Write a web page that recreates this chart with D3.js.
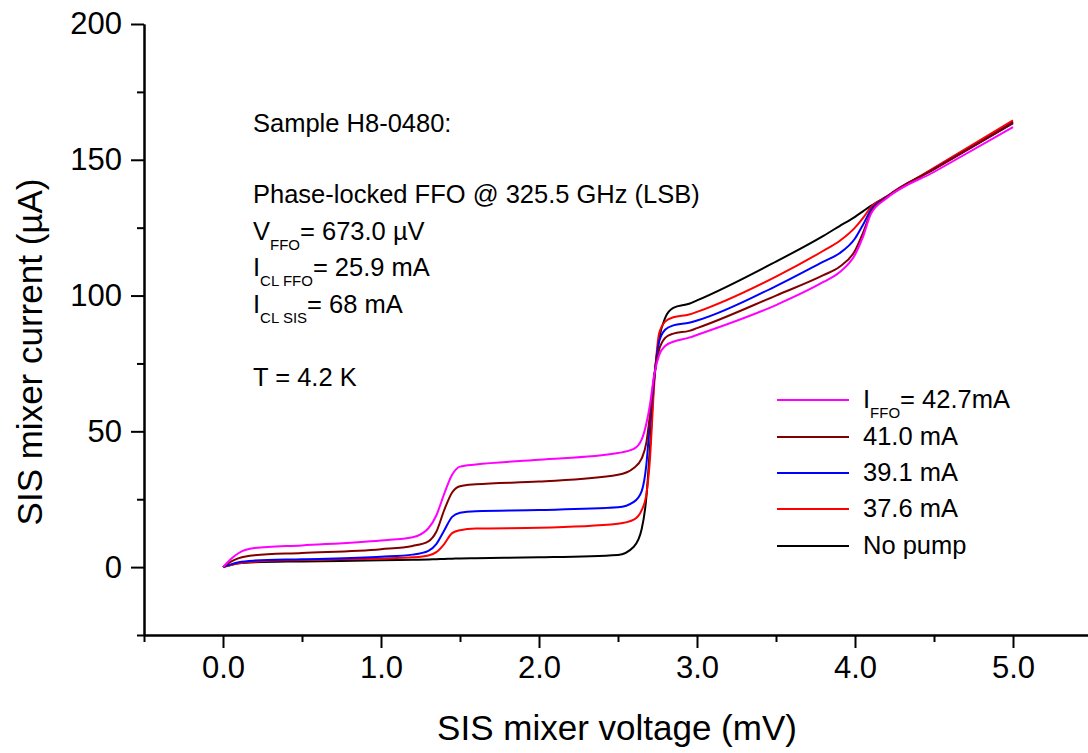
<!DOCTYPE html>
<html>
<head>
<meta charset="utf-8">
<script src="https://cdn.jsdelivr.net/npm/d3@7"></script>
<style>
  body { margin: 0; background: #fff; }
  svg text { font-family: "Liberation Sans", Arial, sans-serif; fill: #000; }
</style>
</head>
<body>
<div class="chart"></div>
<script>
// bias voltage grid (mV) shared by all curves
const voltage = [0, 0.05, 0.1, 0.2, 0.5, 1.0, 1.2, 1.3, 1.35, 1.4, 1.45, 1.5, 1.6, 2.0, 2.5, 2.6, 2.65, 2.68, 2.7, 2.73, 2.76, 2.8, 2.85, 2.95, 3.0, 3.5, 3.8, 3.9, 4.0, 4.05, 4.1, 4.2, 4.5, 5.0];

// SIS current (uA) for each FFO bias
const iffo427 = [0, 3.0, 5.2, 7.0, 8.0, 9.8, 11, 14.3, 19, 27, 34, 37, 37.8, 39.5, 42, 43.5, 47, 53, 59, 71, 78, 81.5, 83, 84.5, 85.5, 96.5, 105, 108.5, 115, 121.5, 130, 135.8, 145.5, 162];
const iffo410 = [0, 2.0, 3.3, 4.4, 5.2, 6.6, 7.8, 9.5, 13, 21, 27.5, 29.8, 30.5, 31.5, 34, 36.5, 40, 46, 55, 71, 80, 84.5, 86, 87, 88, 100, 107.5, 110.5, 116.5, 123, 130.5, 136.2, 146.5, 163.5];
const iffo391 = [0, 1.0, 1.8, 2.4, 2.9, 3.8, 4.6, 6.0, 8.5, 13.5, 18.5, 20.0, 20.6, 21, 22, 24, 28, 38, 52, 70, 83, 87.5, 89, 90, 90.8, 103.5, 112.5, 115.5, 121, 126, 131.5, 136.3, 146.6, 163.5];
const iffo376 = [0, 0.8, 1.4, 2.0, 2.6, 3.2, 3.6, 4.3, 5.5, 8.5, 12.5, 13.6, 14.2, 14.5, 16, 17.5, 21, 27, 38, 68, 86, 90.5, 92, 93, 94, 107, 116.5, 120, 125, 128.5, 132.5, 136.4, 147, 164.5];
const noPump  = [0, 0.8, 1.4, 1.8, 2.1, 2.5, 2.7, 2.8, 2.9, 3.0, 3.1, 3.2, 3.3, 3.6, 4.5, 7.5, 14, 26, 42, 70, 84, 92, 95.5, 97, 98.2, 112.5, 122, 125.5, 129, 131, 133, 136.4, 146.8, 164];

const seriesNames = ["42.7mA", "41.0 mA", "39.1 mA", "37.6 mA", "No pump"];
const seriesColors = ["#ff00ff", "#800000", "#0000ff", "#ff0000", "#000000"];
const seriesValues = [iffo427, iffo410, iffo391, iffo376, noPump];

const xMajor = [0, 1, 2, 3, 4, 5];
const xMinor = [-0.5, 0.5, 1.5, 2.5, 3.5, 4.5, 5.5];
const yMajor = [0, 50, 100, 150, 200];
const yMinor = [-25, 25, 75, 125, 175];

const width = 1088, height = 753;

const svg = d3.select(".chart").append("svg")
    .attr("width", width)
    .attr("height", height)

const xScale = d3.scaleLinear()
    .domain([-0.5, 5.5])
    .range([144, 1092])

const yScale = d3.scaleLinear()
    .domain([-25, 200])
    .range([635, 24])

// minor ticks first, then the labelled axes
svg.append("g")
    .attr("class", "axis")
    .attr("transform", "translate(0,635)")
    .call(d3.axisBottom(xScale).tickValues(xMinor).tickSize(7).tickSizeOuter(0).tickFormat(""))

svg.append("g")
    .attr("class", "axis")
    .attr("transform", "translate(144,0)")
    .call(d3.axisLeft(yScale).tickValues(yMinor).tickSize(7).tickSizeOuter(0).tickFormat(""))

svg.append("g")
    .attr("class", "axis x-axis")
    .attr("transform", "translate(0,635)")
    .call(d3.axisBottom(xScale).tickValues(xMajor).tickSize(13).tickSizeOuter(0).tickPadding(8).tickFormat(d3.format(".1f")))

svg.append("g")
    .attr("class", "axis y-axis")
    .attr("transform", "translate(144,0)")
    .call(d3.axisLeft(yScale).tickValues(yMajor).tickSize(13).tickSizeOuter(0).tickPadding(9))

svg.selectAll(".axis path, .axis line")
    .attr("stroke", "#000")
    .attr("stroke-width", 2)

svg.selectAll(".axis text")
    .attr("font-size", 31)
    .attr("font-family", "Liberation Sans, Arial, sans-serif")

// axis titles
svg.append("text")
    .attr("x", 617)
    .attr("y", 740)
    .attr("text-anchor", "middle")
    .attr("font-size", 35)
    .text("SIS mixer voltage (mV)")

svg.append("text")
    .attr("transform", "translate(42,352) rotate(-90)")
    .attr("text-anchor", "middle")
    .attr("font-size", 35)
    .text("SIS mixer current (\u00b5A)")

// IV curves
const line = d3.line()
    .x((d, i) => xScale(voltage[i]))
    .y(d => yScale(d))
    .curve(d3.curveMonotoneX)

svg.selectAll(".curve")
    .data(seriesValues.slice().reverse())
    .enter()
    .append("path")
    .attr("class", "curve")
    .attr("d", line)
    .attr("fill", "none")
    .attr("stroke", (d, i) => seriesColors.slice().reverse()[i])
    .attr("stroke-width", 2)

// annotation block
const note = svg.append("g").attr("font-size", 25.5)

note.append("text").attr("x", 253).attr("y", 132).text("Sample H8-0480:")
note.append("text").attr("x", 253).attr("y", 203).text("Phase-locked FFO @ 325.5 GHz (LSB)")

function subText(x, y, main, sub, rest) {
    const t = note.append("text").attr("x", x).attr("y", y)
    t.append("tspan").text(main)
    t.append("tspan").attr("font-size", 15).attr("dy", 10).text(sub)
    t.append("tspan").attr("dy", -10).text(rest)
}

subText(253, 240, "V", "FFO", "= 673.0 \u00b5V")
subText(253, 276, "I", "CL FFO", "= 25.9 mA")
subText(253, 313, "I", "CL SIS", "= 68 mA")
note.append("text").attr("x", 253).attr("y", 386).text("T = 4.2 K")

// legend
const legendY = [400, 437, 473, 509, 546];
const legend = svg.append("g").attr("font-size", 25.5)

seriesNames.forEach((name, i) => {
    legend.append("line")
        .attr("x1", 777).attr("x2", 849)
        .attr("y1", legendY[i]).attr("y2", legendY[i])
        .attr("stroke", seriesColors[i])
        .attr("stroke-width", 2)
    const t = legend.append("text").attr("x", 863).attr("y", legendY[i] + 8)
    if (i == 0) {
        t.append("tspan").text("I")
        t.append("tspan").attr("font-size", 15).attr("dy", 10).text("FFO")
        t.append("tspan").attr("dy", -10).text("= " + name)
    } else {
        t.text(name)
    }
})
</script>
</body>
</html>
